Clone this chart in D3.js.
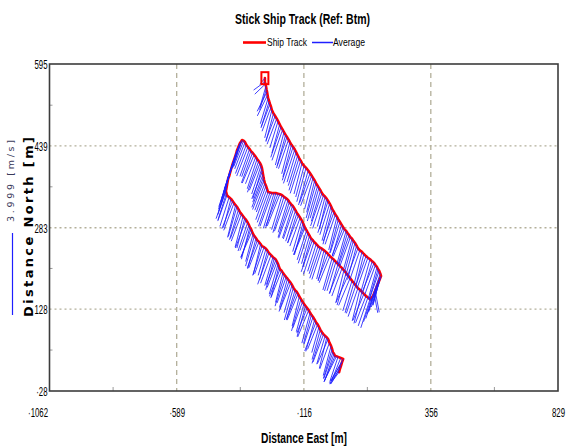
<!DOCTYPE html>
<html><head><meta charset="utf-8">
<script src="https://cdn.jsdelivr.net/npm/d3@7/dist/d3.min.js"></script>
<style>
html,body{margin:0;padding:0;background:#fff;}
svg{display:block;}
text{font-family:"Liberation Sans",Arial,sans-serif;fill:#000;}
</style></head>
<body>
<svg id="chart" width="566" height="447"></svg>
<script>
// ---- data ----
const xTicks = [-1062, -589, -116, 356, 829];
const yTicks = [-28, 128, 283, 439, 595];
const xMinor = [-825.5, -352.5, 120, 592.5];
const yMinor = [50, 205.5, 361, 516.5];
const speedScaleValue = 3.999; // m/s reference stick

// Ship track legs: [east m, north m, avg current east m/s, avg current north m/s]
const legStart = [
  [15,8,-0.44,-0.59],[18,14,-0.50,-0.72],[22,20,-0.49,-0.88],[26,27,-0.62,-1.00],[30,33,-0.58,-1.07],
  [21,35,-0.45,-1.12],[11,37,-0.39,-1.17],[5,38,-0.60,-1.22],[0,39,-0.54,-1.27],[-4,43,-0.47,-1.35]
];
const legLower = [
  [-8,46,-0.45,-1.30],[-11,52,-0.42,-1.42],[-15,58,-0.38,-1.45],[-21,64,-0.47,-1.28],[-26,71,-0.52,-1.20],
  [-31,74,-0.36,-1.50],[-37,77,-0.41,-1.38],[-43,80,-0.51,-1.35],[-49,84,-0.48,-1.52],[-55,89,-0.40,-1.46],
  [-60,94,-0.35,-1.25],[-65,99,-0.49,-1.22],[-71,103,-0.55,-1.40],[-76,108,-0.43,-1.55],[-82,113,-0.44,-1.33],
  [-88,117,-0.38,-1.38],[-93,121,-0.40,-1.48],[-98,126,-0.54,-1.31],[-104,130,-0.50,-1.22],[-110,134,-0.41,-1.49],
  [-116,138,-0.37,-1.36],[-121,142,-0.47,-1.27],[-127,147,-0.46,-1.55],[-133,152,-0.35,-1.44],[-138,157,-0.53,-1.28],
  [-143,161,-0.50,-1.36],[-149,164,-0.42,-1.42],[-155,169,-0.44,-1.58],[-160,174,-0.39,-1.35],[-165,178,-0.52,-1.29],
  [-171,182,-0.49,-1.50],[-177,186,-0.39,-1.41],[-182,189,-0.44,-1.26],[-188,193,-0.46,-1.52],[-194,197,-0.36,-1.44],
  [-199,201,-0.53,-1.33],[-205,204,-0.51,-1.32],[-209,209,-0.37,-1.47],[-212,214,-0.43,-1.47],[-216,218,-0.48,-1.25],
  [-220,222,-0.47,-1.21],[-226,225,-0.42,-1.54],[-231,227,-0.40,-1.39],[-238,231,-0.51,-1.37],[-246,235,-0.55,-1.53],
  [-251,239,-0.40,-1.43],[-257,243,-0.38,-1.30],[-264,246,-0.46,-1.30],[-272,248,-0.45,-1.43],[-277,252,-0.36,-1.50],
  [-283,256,-0.50,-1.27],[-289,259,-0.49,-1.34],[-294,263,-0.41,-1.49],[-300,267,-0.43,-1.46],[-305,271,-0.36,-1.34],
  [-309,276,-0.55,-1.26],[-313,281,-0.48,-1.41],[-317,284,-0.41,-1.56],[-320,288,-0.44,-1.24],[-325,293,-0.47,-1.39],
  [-331,298,-0.52,-1.37],[-336,301,-0.38,-1.45],[-342,305,-0.39,-1.51],[-348,309,-0.50,-1.32],[-354,313,-0.46,-1.29],
  [-359,318,-0.44,-1.48],[-365,323,-0.42,-1.45],[-370,326,-0.39,-1.57],[-376,330,-0.50,-1.33],[-381,334,-0.52,-1.35],
  [-387,338,-0.37,-1.40],[-394,341,-0.45,-1.42],[-402,345,-0.45,-1.26],[-404,349,-0.41,-1.30],[-406,353,-0.48,-1.35]
];
const legWest = [
  [-404,358,-0.42,-1.28],[-402,364,-0.40,-1.25],[-400,370,-0.44,-1.32],[-398,376,-0.45,-1.35],[-394,381,-0.41,-1.24],
  [-391,387,-0.38,-1.20],[-387,394,-0.45,-1.38],[-383,401,-0.43,-1.30],[-380,406,-0.40,-1.27],[-376,412,-0.47,-1.40],
  [-372,418,-0.43,-1.33],[-368,424,-0.41,-1.28],[-365,430,-0.46,-1.36],[-361,435,-0.44,-1.33],[-357,440,-0.42,-1.30],
  [-354,444,-0.39,-1.22],[-350,447,-0.45,-1.30],[-346,450,-0.46,-1.36]
];
const legMiddle = [
  [-340,449,-0.48,-1.26],[-335,446,-0.50,-1.30],[-330,441,-0.53,-1.40],[-324,437,-0.55,-1.42],[-318,433,-0.47,-1.33],
  [-313,429,-0.45,-1.25],[-307,426,-0.54,-1.47],[-301,422,-0.58,-1.38],[-295,418,-0.50,-1.31],[-290,414,-0.48,-1.45],
  [-284,410,-0.55,-1.52],[-279,406,-0.52,-1.32],[-275,402,-0.46,-1.40],[-272,397,-0.44,-1.50],[-270,391,-0.52,-1.35],
  [-268,385,-0.50,-1.36],[-266,379,-0.57,-1.46],[-264,374,-0.56,-1.44],[-261,368,-0.49,-1.32],[-257,363,-0.47,-1.28],
  [-253,357,-0.55,-1.50],[-249,351,-0.53,-1.48],
  [-242,350,-0.56,-1.64],[-235,349,-0.58,-1.62],[-227,349,-0.52,-1.72],[-220,349,-0.50,-1.70],[-212,348,-0.60,-1.58],
  [-205,347,-0.62,-1.55],[-197,345,-0.51,-1.68],[-190,342,-0.54,-1.75],[-182,339,-0.57,-1.60],[-175,336,-0.48,-1.58],
  [-170,332,-0.55,-1.72],[-164,328,-0.60,-1.66],[-158,325,-0.49,-1.57],[-153,321,-0.52,-1.52],
  [-147,316,-0.48,-1.50],[-142,311,-0.45,-1.45],[-136,307,-0.53,-1.36],[-130,302,-0.50,-1.38],[-124,297,-0.44,-1.52],
  [-119,292,-0.42,-1.55],[-115,287,-0.51,-1.41],[-112,283,-0.55,-1.32],[-106,278,-0.46,-1.44],[-101,273,-0.47,-1.48],
  [-95,268,-0.39,-1.37],[-90,263,-0.40,-1.40],[-84,260,-0.55,-1.56],[-78,256,-0.52,-1.58],[-70,252,-0.42,-1.33],
  [-63,248,-0.44,-1.35],[-56,245,-0.50,-1.49],[-49,243,-0.49,-1.50],[-41,240,-0.36,-1.40],[-34,237,-0.38,-1.42],
  [-26,233,-0.49,-1.28],[-19,229,-0.53,-1.30],[-11,225,-0.45,-1.55],[-4,222,-0.46,-1.52],[3,218,-0.43,-1.41],
  [11,214,-0.41,-1.44],[18,210,-0.52,-1.34],[26,206,-0.50,-1.36],[33,202,-0.40,-1.60],[41,197,-0.44,-1.57],
  [48,192,-0.58,-1.30],[56,187,-0.56,-1.33],[63,182,-0.45,-1.47],[70,178,-0.43,-1.46],[77,173,-0.46,-1.36],
  [85,168,-0.48,-1.39],[92,165,-0.37,-1.52],[100,161,-0.39,-1.54],[107,157,-0.53,-1.29],[115,153,-0.51,-1.31],
  [122,150,-0.47,-1.38],[130,147,-0.45,-1.40]
];
const legEast = [
  [135,149,-0.38,-1.15],[141,153,-0.35,-1.10],[145,158,0.18,-0.95],[149,163,0.20,-1.05],[152,167,-0.42,-1.22],
  [156,172,-0.40,-1.25],[160,177,-0.33,-1.15],[164,182,-0.30,-1.20],[167,186,-0.36,-1.28],[171,191,-0.38,-1.30]
];
const legUpper = [
  [168,196,-0.45,-1.35],[164,201,-0.48,-1.40],[160,204,-0.44,-1.48],[156,208,-0.42,-1.52],[150,212,-0.51,-1.42],
  [145,216,-0.55,-1.35],[138,219,-0.47,-1.56],[130,223,-0.45,-1.60],[122,226,-0.53,-1.50],[115,229,-0.50,-1.45],
  [107,233,-0.40,-1.58],[100,237,-0.38,-1.55],[92,240,-0.49,-1.44],[85,244,-0.52,-1.38],[80,249,-0.44,-1.66],
  [74,254,-0.46,-1.62],[68,258,-0.43,-1.52],[63,262,-0.41,-1.48],[57,265,-0.51,-1.40],[52,269,-0.49,-1.42],
  [46,273,-0.47,-1.60],[41,277,-0.44,-1.58],[35,280,-0.55,-1.33],[30,284,-0.53,-1.36],[24,289,-0.45,-1.54],
  [18,294,-0.47,-1.50],[12,299,-0.42,-1.64],[7,304,-0.40,-1.62],[1,308,-0.50,-1.45],[-4,313,-0.52,-1.42],
  [-10,318,-0.46,-1.70],[-15,324,-0.44,-1.68],[-20,329,-0.48,-1.52],[-26,334,-0.50,-1.55],[-31,338,-0.36,-1.48],
  [-37,342,-0.38,-1.45],[-43,345,-0.53,-1.62],[-49,349,-0.55,-1.60],[-54,354,-0.45,-1.50],[-60,359,-0.43,-1.48],
  [-65,363,-0.50,-1.72],[-71,368,-0.48,-1.70],[-76,373,-0.39,-1.55],[-82,378,-0.41,-1.52],[-87,382,-0.54,-1.46],
  [-93,387,-0.51,-1.44],[-100,392,-0.47,-1.68],[-108,397,-0.45,-1.65],[-115,401,-0.41,-1.52],[-123,406,-0.39,-1.50],
  [-128,411,-0.51,-1.60],[-134,416,-0.49,-1.58],[-139,421,-0.46,-1.48],[-145,427,-0.44,-1.46],[-150,432,-0.55,-1.65],
  [-156,437,-0.53,-1.63],[-162,441,-0.42,-1.56],[-168,446,-0.40,-1.54],[-173,451,-0.49,-1.42],[-179,456,-0.47,-1.40],
  [-184,460,-0.44,-1.62],[-190,465,-0.42,-1.60],[-195,470,-0.52,-1.50],[-201,475,-0.50,-1.48],[-206,480,-0.38,-1.40],
  [-212,486,-0.40,-1.30],[-217,491,-0.47,-1.25],[-223,496,-0.45,-1.20],[-229,501,-0.37,-1.38],[-235,507,-0.35,-1.35],
  [-238,513,-0.44,-1.18],[-242,519,-0.42,-1.10],[-245,524,-0.40,-1.30],[-249,530,-0.38,-1.25],[-251,536,-0.50,-1.02],
  [-253,542,-0.48,-0.95],[-255,547,-0.34,-1.00],[-257,553,-0.30,-1.05],[-259,557,-0.52,-0.50],[-261,561,-0.55,-0.40],
  [-261,568,-0.25,-0.30]
];
const titleText = "Stick Ship Track (Ref: Btm)";
const legendItems = ["Ship Track", "Average"];
const xTitle = "Distance East [m]";
const yTitle = "Distance North [m]";
const scaleLabel = "3.999 [m/s]";

// ---- layout ----
const L = 49.5, R = 558, T = 64, B = 391;
const gridColor = "#b3af9a";
const red = "#ff0000", blue = "#1f1fff";
const svg = d3.select("#chart");
svg.append("rect").attr("width", 566).attr("height", 447).attr("fill", "#fff");

const x = d3.scaleLinear().domain([xTicks[0], xTicks[xTicks.length-1]]).range([L, R]);
const y = d3.scaleLinear().domain([yTicks[0], yTicks[yTicks.length-1]]).range([B, T]);
const vs = d3.scaleLinear().domain([0, speedScaleValue]).range([0, 82]);

// gridlines
svg.append("g").selectAll("line").data(yTicks.slice(1, -1)).join("line")
  .attr("x1", L).attr("x2", R).attr("y1", d => y(d)).attr("y2", d => y(d))
  .attr("stroke", gridColor).attr("stroke-width", 1.3).attr("stroke-dasharray", "2,3");
svg.append("g").selectAll("line").data(xTicks.slice(1, -1)).join("line")
  .attr("y1", T).attr("y2", B).attr("x1", d => x(d)).attr("x2", d => x(d))
  .attr("stroke", gridColor).attr("stroke-width", 1.3).attr("stroke-dasharray", "5,4");

// minor ticks
svg.append("g").selectAll("line").data(xMinor).join("line")
  .attr("x1", d => x(d)).attr("x2", d => x(d)).attr("y1", B).attr("y2", B - 4)
  .attr("stroke", "#9a9a9a").attr("stroke-width", 1);
svg.append("g").selectAll("line").data(yMinor).join("line")
  .attr("y1", d => y(d)).attr("y2", d => y(d)).attr("x1", L).attr("x2", L + 3)
  .attr("stroke", "#9a9a9a").attr("stroke-width", 1);

// ship track
const pts = [legStart, legLower, legWest, legMiddle, legEast, legUpper].flat()
  .map(r => ({e: r[0], n: r[1], ve: r[2], vn: r[3]}));
svg.append("path").datum(pts)
  .attr("d", d3.line().x(d => x(d.e)).y(d => y(d.n)))
  .attr("fill", "none").attr("stroke", red).attr("stroke-width", 2.6)
  .attr("stroke-linejoin", "round").attr("stroke-linecap", "round");

// sticks (average current)
svg.append("g").selectAll("line").data(pts).join("line")
  .attr("x1", d => x(d.e)).attr("y1", d => y(d.n))
  .attr("x2", d => x(d.e) + vs(d.ve)).attr("y2", d => y(d.n) - vs(d.vn))
  .attr("stroke", blue).attr("stroke-width", 0.85);

// end marker
const last = pts[pts.length - 1];
svg.append("rect").attr("x", x(last.e) - 3.5).attr("y", y(last.n) - 6)
  .attr("width", 7).attr("height", 12).attr("fill", "none")
  .attr("stroke", red).attr("stroke-width", 2);

// frame
svg.append("rect").attr("x", L).attr("y", T).attr("width", R - L).attr("height", B - T)
  .attr("fill", "none").attr("stroke", "#3c3c3c").attr("stroke-width", 1.6);

// axes (labels)
const sx = 0.6;
const xAxis = svg.append("g").attr("transform", `translate(0,${B})`)
  .call(d3.axisBottom(x).tickValues(xTicks).tickSize(0).tickFormat(d3.format("d")));
xAxis.select(".domain").remove();
xAxis.selectAll("text")
  .attr("y", 26).attr("dy", null)
  .style("font-size", "13px").style("font-family", "Liberation Sans, Arial, sans-serif")
  .attr("transform", `scale(${sx},1)`)
  .text(d => String(d).replace("-", "·"))
  .each(function(d, i) {
    if (i === 0) d3.select(this).attr("text-anchor", "end").attr("x", -2 / sx);
  });

const yAxis = svg.append("g").attr("transform", `translate(${L},0)`)
  .call(d3.axisLeft(y).tickValues(yTicks).tickSize(0).tickFormat(d3.format("d")));
yAxis.select(".domain").remove();
yAxis.selectAll("text")
  .attr("x", -2 / sx).attr("dy", "0.36em")
  .style("font-size", "13px").style("font-family", "Liberation Sans, Arial, sans-serif")
  .attr("transform", `scale(${sx},1)`)
  .text(d => String(d).replace("-", "·"));

// title
svg.append("text").attr("x", 302.5).attr("y", 24).attr("text-anchor", "middle")
  .style("font-size", "15px").style("font-weight", "bold")
  .attr("textLength", 135).attr("lengthAdjust", "spacingAndGlyphs")
  .text(titleText);

// legend
svg.append("line").attr("x1", 243).attr("x2", 266).attr("y1", 42.5).attr("y2", 42.5)
  .attr("stroke", red).attr("stroke-width", 2.6);
svg.append("text").attr("x", 267).attr("y", 46).style("font-size", "11px")
  .attr("textLength", 40).attr("lengthAdjust", "spacingAndGlyphs").text(legendItems[0]);
svg.append("line").attr("x1", 312).attr("x2", 333).attr("y1", 42.5).attr("y2", 42.5)
  .attr("stroke", blue).attr("stroke-width", 1.5);
svg.append("text").attr("x", 333).attr("y", 46).style("font-size", "11px")
  .attr("textLength", 32).attr("lengthAdjust", "spacingAndGlyphs").text(legendItems[1]);

// axis titles
svg.append("text").attr("x", 304).attr("y", 443).attr("text-anchor", "middle")
  .style("font-size", "15px").style("font-weight", "bold")
  .attr("textLength", 86).attr("lengthAdjust", "spacingAndGlyphs").text(xTitle);
svg.append("text").attr("transform", "translate(33,227) rotate(-90)").attr("text-anchor", "middle")
  .style("font-size", "13px").style("font-weight", "bold").style("font-family", "DejaVu Sans, Verdana, sans-serif")
  .attr("textLength", 180).attr("lengthAdjust", "spacing").text(yTitle);

// velocity scale bar
svg.append("line").attr("x1", 12.5).attr("x2", 12.5).attr("y1", 315).attr("y2", 315 - vs(speedScaleValue))
  .attr("stroke", blue).attr("stroke-width", 1.2);
svg.append("text").attr("transform", "translate(14,181) rotate(-90)").attr("text-anchor", "middle")
  .style("font-size", "9.5px").style("fill", "#3a3a5a").style("font-family", "DejaVu Sans, Verdana, sans-serif")
  .attr("textLength", 82).attr("lengthAdjust", "spacing").text(scaleLabel);
</script>
</body></html>
